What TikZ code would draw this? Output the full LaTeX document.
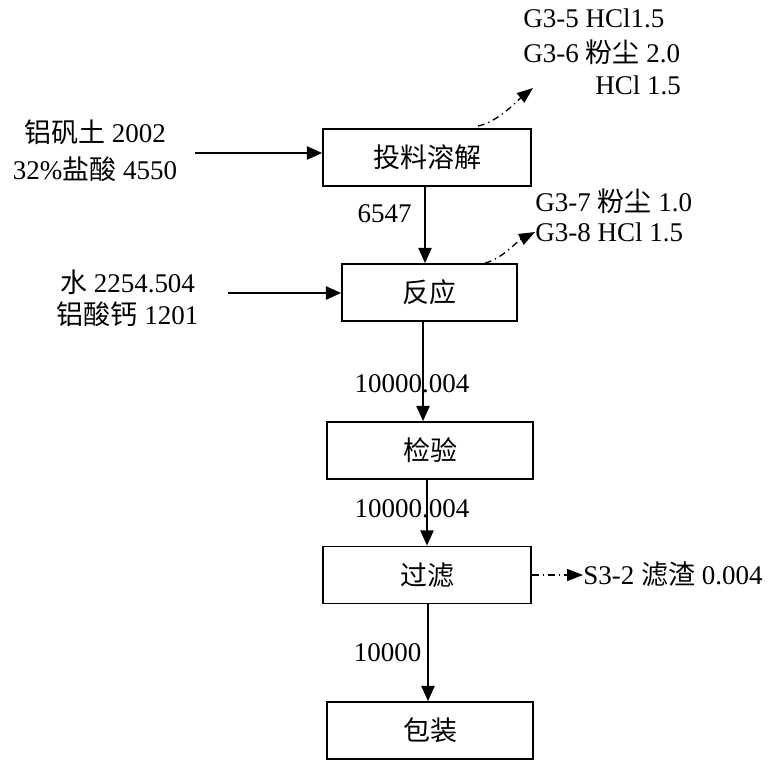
\documentclass[tikz,border=0pt]{standalone}
\usepackage{fontspec}
\setmainfont{Liberation Serif}
\newfontfamily\cjk{Noto Sans CJK SC}
\usetikzlibrary{arrows.meta}
\begin{document}
\begin{tikzpicture}[x=0.75pt,y=-0.75pt,
  font=\fontsize{20.25pt}{26pt}\selectfont,
  box/.style={draw, line width=1.3pt, inner sep=0pt, minimum height=42.75pt},
  arr/.style={-{Triangle[length=11.5pt,width=10pt]}, line width=1.2pt},
  darr/.style={-{Triangle[length=12pt,width=9pt]}, line width=1pt, dash pattern=on 5pt off 3pt on 1pt off 3pt},
  lbl/.style={inner sep=0pt, text height=13.5pt, text depth=0pt}]
\useasboundingbox (0,0) rectangle (771,760);
% process boxes
\node[box, minimum width=156pt]    (b1) at (427,157.5) {\cjk 投料溶解};
\node[box, minimum width=131.25pt] (b2) at (429.5,292.5) {\cjk 反应};
\node[box, minimum width=154.5pt]  (b3) at (430,450.5) {\cjk 检验};
\node[box, minimum width=156pt]    (b4) at (427,575) {\cjk 过滤};
\node[box, minimum width=154.5pt]  (b5) at (430,730.5) {\cjk 包装};
% x positions of the vertical flows
\coordinate (x1) at (425,0);
\coordinate (x2) at (423,0);
\coordinate (x3) at (427,0);
\coordinate (x4) at (428,0);
\draw[arr] (b1.south -| x1) -- (b2.north -| x1);
\draw[arr] (b2.south -| x2) -- (b3.north -| x2);
\draw[arr] (b3.south -| x3) -- (b4.north -| x3);
\draw[arr] (b4.south -| x4) -- (b5.north -| x4);
% flow labels
\node[lbl] (l1) at (384.5,213) {6547};
\node[lbl] (l2) at (412,383) {10000.004};
\node[lbl] (l3) at (412,508) {10000.004};
\node[lbl] (l4) at (387.5,652) {10000};
% inputs
\node[lbl] (i1a) at (95,133) {{\cjk 铝矾土} 2002};
\node[lbl] (i1b) at (95,170) {32\%{\cjk 盐酸} 4550};
\coordinate (s1) at (195,153);
\draw[arr] (s1) -- (s1 -| b1.west);
\node[lbl] (i2a) at (127.5,283) {{\cjk 水} 2254.504};
\node[lbl] (i2b) at (127.5,315) {{\cjk 铝酸钙} 1201};
\coordinate (s2) at (228,293);
\draw[arr] (s2) -- (s2 -| b2.west);
% emissions
\node[lbl, anchor=west] (g1) at (523,18) {G3-5 HCl1.5};
\node[lbl, anchor=west] (g2) at (523,53) {G3-6 {\cjk 粉尘} 2.0};
\node[lbl, anchor=west] (g3) at (595,85) {HCl 1.5};
\coordinate (d1s) at (478,126);
\coordinate (d1e) at (533,88);
\draw[darr] (d1s) .. controls (498,122) and (518,100) .. (d1e);
\node[lbl, anchor=west] (g4) at (535,202) {G3-7 {\cjk 粉尘} 1.0};
\node[lbl, anchor=west] (g5) at (535,232) {G3-8 HCl 1.5};
\coordinate (d2s) at (485,263);
\draw[darr] (d2s) .. controls (502,259) and (516,242) .. (g5.west);
% residue
\node[lbl, anchor=west] (s32) at (583,575) {S3-2 {\cjk 滤渣} 0.004};
\draw[darr] (b4.east) -- (s32.west);
\end{tikzpicture}
\end{document}
